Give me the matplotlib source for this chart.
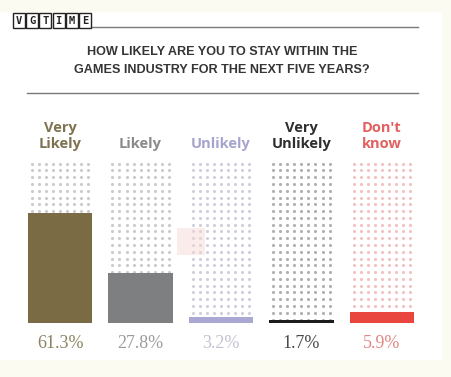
import numpy as np
import matplotlib.pyplot as plt
from matplotlib.patches import Rectangle
from matplotlib.transforms import blended_transform_factory

# data
categories = ["Very\nLikely", "Likely", "Unlikely", "Very\nUnlikely", "Don't\nknow"]
values = [61.3, 27.8, 3.2, 1.7, 5.9]
pct_labels = ["61.3%", "27.8%", "3.2%", "1.7%", "5.9%"]

bar_colors = ["#7b6b44", "#7e7f81", "#aaa8d2", "#1c1c1c", "#e9463f"]
label_colors = ["#7f7250", "#8a8a8a", "#a6a4cc", "#2e2e2e", "#e2605f"]
dot_colors = ["#cbcbcb", "#cbcbcb", "#cfcfdb", "#b0b0b0", "#f2c2c0"]
pct_colors = ["#8b8262", "#9c9c9c", "#c3c2d3", "#4a4a4a", "#e28585"]

W, H = 452, 377
fig = plt.figure(figsize=(W / 100, H / 100), dpi=100, facecolor="#fcfbf2")

def fx(x):
    return x / W

def fy(y):
    return 1 - y / H

# white panel
fig.patches.append(Rectangle((fx(0), fy(360)), fx(442), 348 / H, transform=fig.transFigure,
                             facecolor="white", edgecolor="none", zorder=-10))

# logo
logo = ["V", "G", "T", "I", "M", "E"]
for i, ch in enumerate(logo):
    x0 = 13 + i * 13.2
    fig.patches.append(Rectangle((fx(x0), fy(28)), fx(12), 15 / H, transform=fig.transFigure,
                                 facecolor="white", edgecolor="#222222", linewidth=1.0, zorder=2))
    fig.text(fx(x0 + 6), fy(20.5), ch, ha="center", va="center", fontsize=7.5,
             fontweight="bold", family="DejaVu Sans Mono", color="#222222")

# rules
fig.add_artist(plt.Line2D([fx(92), fx(418)], [fy(27), fy(27)], color="#7a7a7a", lw=1.0))
fig.add_artist(plt.Line2D([fx(27), fx(418)], [fy(93), fy(93)], color="#7a7a7a", lw=1.0))

# title
title_font = ["Liberation Sans", "DejaVu Sans"]
fig.text(fx(222), fy(52), "HOW LIKELY ARE YOU TO STAY WITHIN THE", ha="center", va="center",
         fontsize=9.1, fontweight="bold", family=title_font, color="#353535")
fig.text(fx(222), fy(70), "GAMES INDUSTRY FOR THE NEXT FIVE YEARS?", ha="center", va="center",
         fontsize=9.1, fontweight="bold", family=title_font, color="#353535")

# faint watermark square
fig.patches.append(Rectangle((fx(177), fy(255)), fx(28), 27 / H, transform=fig.transFigure,
                             facecolor="#f7d6d6", edgecolor="none", alpha=0.45, zorder=3))

# chart axes
ax = fig.add_axes([fx(28), fy(323), fx(386), 162 / H])
ax.set_xlim(-0.4, len(values) - 1 + 0.4)
ax.set_ylim(0, 90)
ax.axis("off")
ax.patch.set_alpha(0)

x = np.arange(len(values))
dot_x = np.linspace(-0.35, 0.35, 9)
dot_y = np.linspace(1.9, 88.5, 24)
for i in x:
    gx, gy = np.meshgrid(i + dot_x, dot_y)
    ax.scatter(gx.ravel(), gy.ravel(), s=5, color=dot_colors[i], linewidths=0, zorder=1)

ax.bar(x, values, width=0.8, color=bar_colors, zorder=2)

tr = blended_transform_factory(ax.transData, fig.transFigure)
for i in x:
    ax.text(i, fy(148), categories[i], transform=tr, ha="center", va="baseline",
            fontsize=10.5, fontweight="bold", family=["Open Sans", "DejaVu Sans"],
            color=label_colors[i], linespacing=1.15)
    ax.text(i, fy(343), pct_labels[i], transform=tr, ha="center", va="center",
            fontsize=13, family=["Liberation Serif", "DejaVu Serif"], color=pct_colors[i])

fig.savefig("out.png", dpi=100, facecolor=fig.get_facecolor())
